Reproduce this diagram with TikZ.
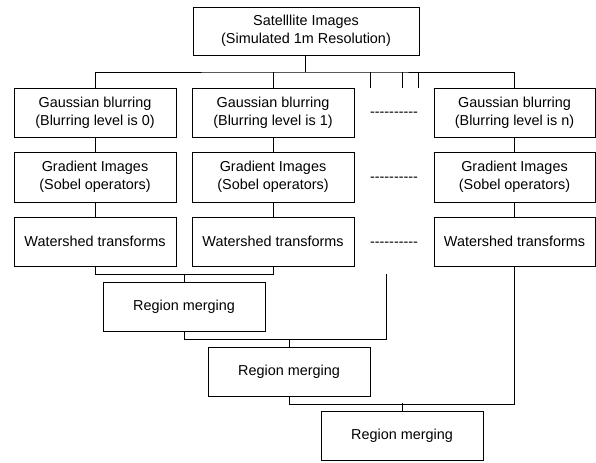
\documentclass[tikz,border=0pt]{standalone}
\usepackage{fontspec}
\setmainfont{Liberation Sans}
\begin{document}
\begin{tikzpicture}[x=0.75pt,y=-0.75pt,
  every node/.style={font=\fontsize{10.8}{13.5}\selectfont},
  box/.style={draw, line width=0.7pt, align=center, inner sep=0pt,
    minimum width=121.5pt, minimum height=36.75pt},
  wire/.style={line width=0.7pt},
  dots/.style={anchor=base, inner sep=0pt}]
\useasboundingbox (0,0) rectangle (596,462);
% top
\node[box, minimum width=169.5pt, minimum height=36pt] (top) at (306,31) {Satelllite Images\\(Simulated 1m Resolution)};
% columns
\node[box] (g1) at (95,112.5) {Gaussian blurring\\(Blurring level is 0)};
\node[box] (g2) at (273,112.5) {Gaussian blurring\\(Blurring level is 1)};
\node[box, minimum width=120.75pt] (gn) at (514.5,112.5) {Gaussian blurring\\(Blurring level is n)};
\node[box, minimum height=37.5pt] (s1) at (95,177) {Gradient Images\\(Sobel operators)};
\node[box, minimum height=37.5pt] (s2) at (273,177) {Gradient Images\\(Sobel operators)};
\node[box, minimum height=37.5pt, minimum width=120.75pt] (sn) at (514.5,177) {Gradient Images\\(Sobel operators)};
\node[box] (w1) at (95,241.5) {Watershed transforms};
\node[box] (w2) at (273,241.5) {Watershed transforms};
\node[box, minimum width=120.75pt] (wn) at (514.5,241.5) {Watershed transforms};
% dashes
\node[dots] (d1) at (394,116) {-{}-{}-{}-{}-{}-{}-{}-{}-{}-};
\node[dots] (d2) at (394,181) {-{}-{}-{}-{}-{}-{}-{}-{}-{}-};
\node[dots] (d3) at (394,246) {-{}-{}-{}-{}-{}-{}-{}-{}-{}-};
% merges
\node[box] (m1) at (184,306.5) {Region merging};
\node[box] (m2) at (289,371.5) {Region merging};
\node[box] (m3) at (402,436) {Region merging};
% bus
\coordinate (bus) at (305,72);
\draw[wire] (g1.north) |- (bus) -| (gn.north);
\draw[wire] (top.south -| bus) -- (bus);
\draw[wire] (g2.north) -- (g2.north |- bus);
\coordinate (t1) at (370,72);
\coordinate (t2) at (402,72);
\coordinate (t3) at (418,72);
\foreach \t in {t1,t2,t3} \draw[wire] (\t) -- ++(0,16);
% columns
\foreach \c in {1,2,n} {
  \draw[wire] (g\c) -- (s\c);
  \draw[wire] (s\c) -- (w\c);
}
% merging tree
\draw[wire] (w1.south) -- ++(0,8) -| (w2.south);
\draw[wire] (m1.north) -- ++(0,-8);
\coordinate (free) at (386,274);
\draw[wire] (m1.south) -- ++(0,8) -| (free);
\draw[wire] (m2.north) -- ++(0,-8);
\draw[wire] (m2.south) -- ++(0,8) -| (wn.south);
\draw[wire] (m3.north) -- ++(0,-8);
\end{tikzpicture}
\end{document}
